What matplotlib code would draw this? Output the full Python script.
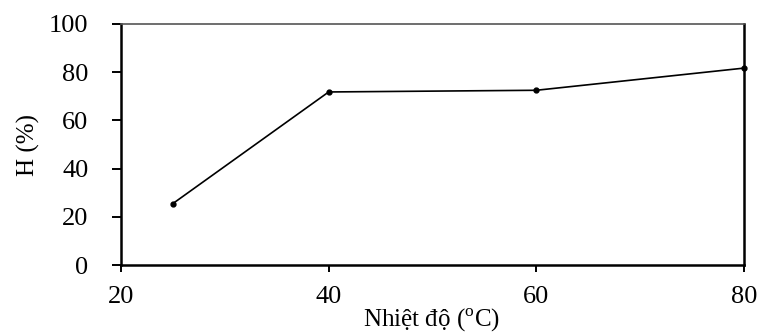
import matplotlib
matplotlib.use("Agg")
import matplotlib.pyplot as plt

temps = [25, 40, 60, 80]
h_values = [25.5, 71.8, 72.5, 81.7]
x_ticks = [20, 40, 60, 80]
y_ticks = [0, 20, 40, 60, 80, 100]

plt.rcParams['font.family'] = ['Liberation Serif', 'DejaVu Serif']
plt.rcParams['mathtext.fontset'] = 'custom'
plt.rcParams['mathtext.rm'] = 'Liberation Serif'

fig = plt.figure(figsize=(7.61, 3.36), dpi=100)
ax = fig.add_axes([121/761, 1 - 265/336, (744-121)/761, (265-24)/336])
ax.plot(temps, h_values, color='black', linewidth=1.2, marker='o',
        markersize=3.5, clip_on=False, zorder=3)
ax.set_xlim(20, 80)
ax.set_ylim(0, 100)
ax.set_xticks(x_ticks)
ax.set_yticks(y_ticks)
ax.tick_params(axis='x', labelsize=19, direction='out', length=5, width=1.4,
               pad=10, colors='black')
ax.tick_params(axis='y', labelsize=19, direction='out', length=6.5, width=1.4,
               pad=17, colors='black')
for s in ['left', 'bottom', 'right']:
    ax.spines[s].set_linewidth(1.8)
ax.spines['top'].set_linewidth(1.2)
ax.spines['top'].set_color('#555555')
ax.set_xlabel('Nhiệt độ (' + r'$^{\mathrm{o}}$' + 'C)', fontsize=18)
ax.xaxis.set_label_coords(0.498, -0.175)
ax.set_ylabel('H (%)', fontsize=18)
ax.yaxis.set_label_coords(-0.13, 0.5)
fig.savefig('out.png', dpi=100)
